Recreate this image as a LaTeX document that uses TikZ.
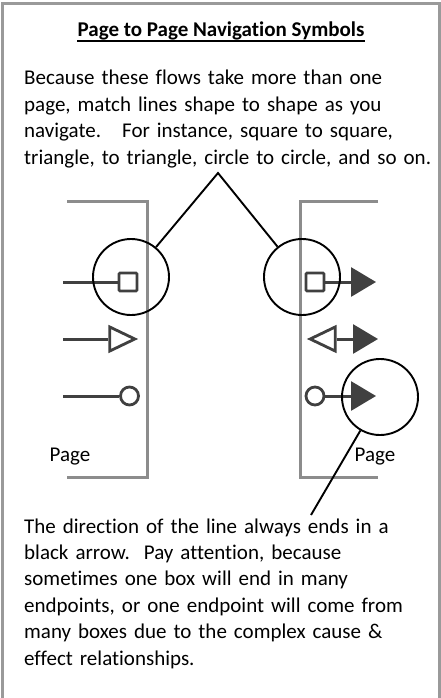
\documentclass[tikz,border=0pt]{standalone}
\usepackage{fontspec}
\setmainfont{Carlito}[Ligatures=NoCommon]
\usepackage{xcolor}
\usetikzlibrary{arrows.meta,shapes.geometric}
\definecolor{framegray}{HTML}{9A9A9A}
\definecolor{pagegray}{HTML}{8C8C8C}
\definecolor{navgray}{HTML}{404040}
\definecolor{ink}{HTML}{000000}
\tikzset{
  framebox/.style={draw=framegray,line width=3pt},
  pageline/.style={draw=pagegray,line width=3pt},
  navline/.style={draw=navgray,line width=3pt},
  navarr/.style={navline,-{Triangle[length=25pt,width=29pt]}},
  sqmark/.style={rectangle,draw=navgray,fill=white,line width=2.8pt,
                 minimum size=18pt,inner sep=0pt,rounded corners=1pt},
  dotmark/.style={circle,draw=navgray,fill=white,line width=2.8pt,
                  minimum size=18pt,inner sep=0pt},
  trimark/.style={isosceles triangle,isosceles triangle stretches,
                  draw=navgray,fill=white,line width=2.8pt,
                  minimum width=24pt,minimum height=25pt,inner sep=0pt},
  ringcall/.style={circle,draw=ink,line width=1.9pt,minimum size=76pt,inner sep=0pt},
  callline/.style={draw=ink,line width=1.9pt},
  bodytext/.style={anchor=base west,inner sep=0pt,text width=415pt,align=left,
                   font=\fontsize{21}{26.4}\selectfont},
  pagelabel/.style={anchor=base,inner sep=0pt,font=\fontsize{21}{26}\selectfont}
}
\begin{document}
\begin{tikzpicture}[x=1pt,y=-1pt]
  \useasboundingbox (0,0) rectangle (441,698);
  \draw[framebox] (2,710) -- (2,4) -- (439.5,4) -- (439.5,710);

  % heading and first note
  \node[anchor=base,inner sep=0pt,font=\fontsize{21}{26}\selectfont\bfseries] (title) at (221,37)
    {Page to Page Navigation Symbols};
  \draw[line width=1.3pt] ([yshift=-4pt]title.base west) -- ([yshift=-4pt]title.base east);
  \node[bodytext] (note1) at (24,85) {Because these flows take more than one\\
    page, match lines shape to shape as you\\
    navigate.\ \ \ For instance, square to square,\\
    triangle, to triangle, circle to circle, and so on.};

  % the two pages
  \draw[pageline] (67,201) -- (147,201) -- (147,477) -- (67,477);
  \draw[pageline] (378,201) -- (300,201) -- (300,477) -- (378,477);
  \node[pagelabel] (pageL) at (70,461.5) {Page};
  \node[pagelabel] (pageR) at (375,461.5) {Page};

  % leaving a page
  \coordinate (in1) at (63,282);
  \coordinate (in2) at (63,339);
  \coordinate (in3) at (63,396);
  \node[sqmark] (sqL) at (128,282) {};
  \node[trimark,anchor=apex] (triL) at (138.5,339) {};
  \node[dotmark] (dotL) at (129.5,396) {};
  \draw[navline] (in1) -- (sqL);
  \draw[navline] (in2) -- (triL.west);
  \draw[navline] (in3) -- (dotL);

  % arriving on a page
  \coordinate (out1) at (376,282);
  \coordinate (out2) at (378,339);
  \coordinate (out3) at (376,396);
  \node[sqmark] (sqR) at (315,282) {};
  \node[trimark,shape border rotate=180,anchor=apex] (triR) at (306.5,339) {};
  \node[dotmark] (dotR) at (315,396) {};
  \draw[navarr] (sqR) -- (out1);
  \draw[navarr] (triR.east) -- (out2);
  \draw[navarr] (dotR) -- (out3);

  % callouts
  \node[ringcall] (ring1) at (131,277) {};
  \node[ringcall] (ring2) at (302,277) {};
  \node[ringcall] (ring3) at (380,397) {};
  \coordinate (peak) at (218,173);
  \coordinate (foot) at (311,515);
  \draw[callline] (ring1) -- (peak) -- (ring2);
  \draw[callline] (ring3) -- (foot);

  \node[bodytext] (note2) at (24,533) {The direction of the line always ends in a\\
    black arrow.\ \ Pay attention, because\\
    sometimes one box will end in many\\
    endpoints, or one endpoint will come from\\
    many boxes due to the complex cause \&\\
    effect relationships.};
\end{tikzpicture}
\end{document}
